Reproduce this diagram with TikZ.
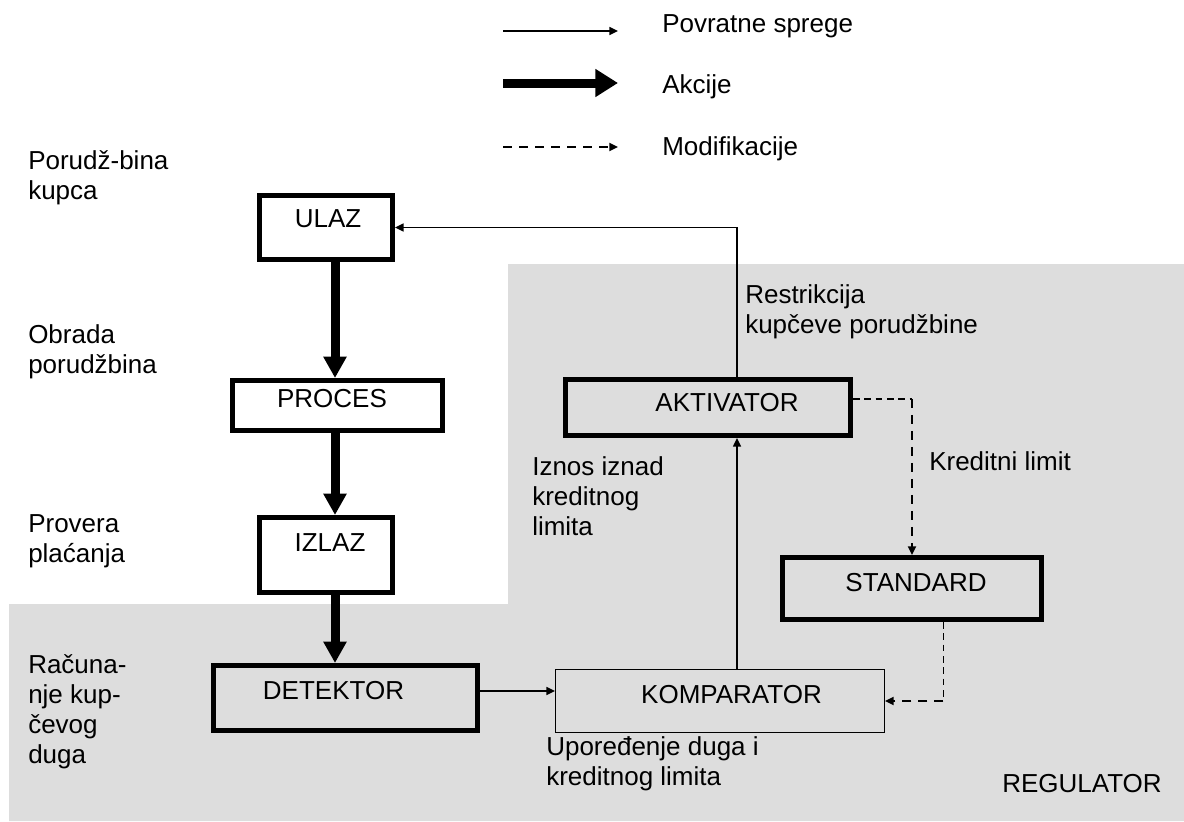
\documentclass[tikz,border=0pt]{standalone}
\usepackage{fontspec}
\setmainfont{Liberation Sans}
\usetikzlibrary{arrows.meta,calc}
\definecolor{regray}{RGB}{221,221,221}
\newcommand\mlines[1]{\begin{tabular}[t]{@{}l@{}}#1\end{tabular}}
\tikzset{
  box/.style={draw, rectangle, line width=3.75pt, inner sep=0pt},
  thinbox/.style={draw, rectangle, line width=1.1pt, inner sep=0pt},
  lbl/.style={anchor=base west, inner sep=0pt},
  act/.style={line width=6.75pt, -{Triangle[width=16.5pt,length=16pt]}},
  fb/.style={line width=1.1pt, -{Triangle[width=6pt,length=6.5pt]}},
  modthin/.style={line width=0.8pt, dash pattern=on 5pt off 3.5pt},
  modthick/.style={line width=1.5pt, dash pattern=on 7pt off 5pt},
  modtip/.style={-{Triangle[width=6pt,length=6.5pt]}}
}
\begin{document}
\begin{tikzpicture}[x=0.75pt,y=-0.75pt,font=\fontsize{19.5}{22.5}\selectfont]
\useasboundingbox (0,0) rectangle (1184,821);
% grey region
\fill[regray] (508,264) -- (1184,264) -- (1184,821) -- (9,821) -- (9,604) -- (508,604) -- cycle;

% legend
\coordinate (l1a) at (503,31);  \coordinate (l1b) at (618,31);
\coordinate (l2a) at (503,83);  \coordinate (l2b) at (618,83);
\coordinate (l3a) at (503,147); \coordinate (l3b) at (618,147);
\draw[fb] (l1a) -- (l1b);
\draw[line width=6.75pt, -{Triangle[width=20pt,length=17pt]}] (l2a) -- (l2b);
\draw[modthick, modtip] (l3a) -- (l3b);
\node[lbl] (lt1) at (662,32) {Povratne sprege};
\node[lbl] (lt2) at (662,93) {Akcije};
\node[lbl] (lt3) at (662,155) {Modifikacije};

% boxes
\node[box, minimum width=99.75pt, minimum height=48pt,
  label={[shift={(2,-8.5)}]center:ULAZ}] (ulaz) at (326,227.5) {};
\node[box, minimum width=157.5pt, minimum height=37.5pt,
  label={[shift={(-5.5,-6.5)}]center:PROCES}] (proces) at (337.5,405.5) {};
\node[box, minimum width=99.75pt, minimum height=56.25pt,
  label={[shift={(4,-12)}]center:IZLAZ}] (izlaz) at (326,555) {};
\node[box, minimum width=198pt, minimum height=48.75pt,
  label={[shift={(-12,-7)}]center:DETEKTOR}] (det) at (345.5,698) {};
\node[box, minimum width=213.75pt, minimum height=42pt,
  label={[shift={(19,-5)}]center:AKTIVATOR}] (akt) at (708,407.5) {};
\node[box, minimum width=194.25pt, minimum height=46.5pt,
  label={[shift={(4,-5.5)}]center:STANDARD}] (std) at (912,588.5) {};
\node[thinbox, minimum width=246.4pt, minimum height=46.9pt,
  label={[shift={(11.5,-6)}]center:KOMPARATOR}] (komp) at (720,701) {};

% side labels
\node[lbl] (t1) at (28,169) {\mlines{Porudž-bina\\kupca}};
\node[lbl] (t2) at (28,343) {\mlines{Obrada\\porudžbina}};
\node[lbl] (t3) at (28,532) {\mlines{Provera\\plaćanja}};
\node[lbl] (t4) at (28,673) {\mlines{Računa-\\nje kup-\\čevog\\duga}};
\node[lbl] (t5) at (745,303) {\mlines{Restrikcija\\kupčeve porudžbine}};
\node[lbl] (t6) at (532,475) {\mlines{Iznos iznad\\kreditnog\\limita}};
\node[lbl] (t7) at (929,470) {Kreditni limit};
\node[lbl] (t8) at (546,755) {\mlines{Upoređenje duga i\\kreditnog limita}};
\node[lbl] (t9) at (1002,792) {REGULATOR};

% action arrows
\draw[act] ([xshift=6.75pt]ulaz.south) -- ([xshift=6.75pt]ulaz.south |- proces.north);
\draw[act] ([xshift=-1.875pt]proces.south) -- ([xshift=-1.875pt]proces.south |- izlaz.north);
\draw[act] ([xshift=6.75pt]izlaz.south) -- ([xshift=6.75pt]izlaz.south |- det.north);

% feedback arrows
\draw[fb] ([yshift=5.25pt]det.east) -- ([yshift=5.25pt]det.east -| komp.west);
\draw[fb] ([xshift=12.75pt]komp.north) -- ([xshift=12.75pt]komp.north |- akt.south);
\draw[fb] ([xshift=21.75pt]akt.north) |- (ulaz.east);

% modification arrows
\coordinate (c1) at ([yshift=6.4pt]akt.east -| std.north);
\draw[modthin] ([yshift=6.4pt]akt.east) -- (c1);
\draw[modthick, modtip] (c1) -- (std.north);
\coordinate (c2) at ([xshift=23.6pt]std.south |- komp.east);
\draw[modthin] ([xshift=23.6pt]std.south) -- (c2);
\draw[modthick, modtip] (c2) -- (komp.east);
\end{tikzpicture}
\end{document}
